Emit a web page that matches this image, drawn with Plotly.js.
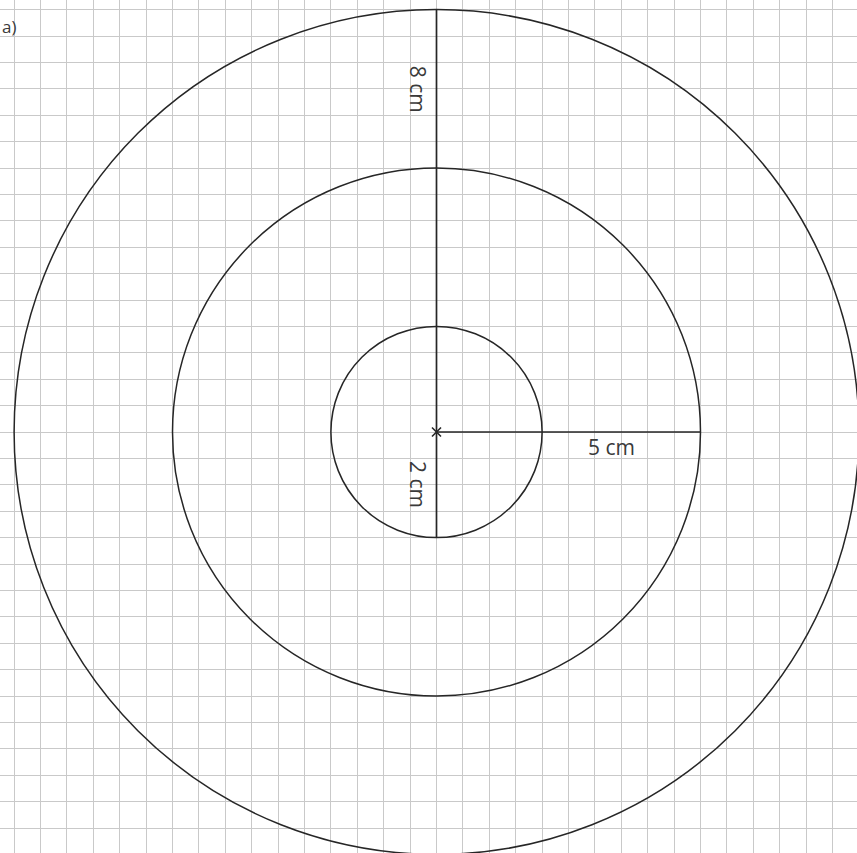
<!DOCTYPE html>
<html>
<head>
<meta charset="utf-8">
<script src="https://cdn.plot.ly/plotly-3.0.1.min.js"></script>
<style>html,body{margin:0;padding:0;background:#fff;}#chart{width:857px;height:853px;}</style>
</head>
<body>
<div id="chart"></div>
<script>
// Data (cm)
const radii = [2, 5, 8];
const upLength = 8;      // radius drawn upward
const downLength = 2;    // radius drawn downward
const rightLength = 5;   // radius drawn to the right
const labels = ["8 cm", "2 cm", "5 cm"];
const partLabel = "a)";

const pxPerCm = 52.8;
const W = 857, H = 853;
const cx = 436.5, cy = 432;
const xr = [-cx / pxPerCm, (W - cx) / pxPerCm];
const yr = [-(H - cy) / pxPerCm, cy / pxPerCm];

const ink = "#262626";
const shapes = radii.map(r => ({
  type: "circle", xref: "x", yref: "y",
  x0: -r, x1: r, y0: -r, y1: r,
  line: {color: ink, width: 1.5}
}));

const traces = [
  {x: [0, 0], y: [upLength, -downLength], mode: "lines", line: {color: ink, width: 1.7}, hoverinfo: "skip"},
  {x: [0, rightLength], y: [0, 0], mode: "lines", line: {color: ink, width: 1.7}, hoverinfo: "skip"},
  {x: [0], y: [0], mode: "markers", marker: {symbol: "x-thin", size: 9, line: {color: ink, width: 1.6}}, hoverinfo: "skip"}
];

const font = {family: "Open Sans, Noto Sans, sans-serif", size: 21, color: "#3a3a3a"};
const annotations = [
  {x: -0.35, y: 6.50, text: labels[0], textangle: 90, showarrow: false, font},
  {x: -0.35, y: -0.985, text: labels[1], textangle: 90, showarrow: false, font},
  {x: 3.32, y: -0.28, text: labels[2], showarrow: false, font},
  {x: (0 - cx) / pxPerCm, y: (cy - 26) / pxPerCm, text: partLabel, xanchor: "left", showarrow: false,
   font: {family: "Open Sans, sans-serif", size: 17, color: "#3a3a3a"}}
];

const axisCommon = {
  dtick: 0.5, tick0: 0, showgrid: true, gridcolor: "#c9c9c9", gridwidth: 1,
  zeroline: false, showticklabels: false, ticks: "", showline: false, fixedrange: true
};

Plotly.newPlot("chart", traces, {
  width: W, height: H,
  margin: {l: 0, r: 0, t: 0, b: 0},
  paper_bgcolor: "#ffffff", plot_bgcolor: "#ffffff",
  showlegend: false,
  xaxis: Object.assign({range: xr}, axisCommon),
  yaxis: Object.assign({range: yr}, axisCommon),
  shapes, annotations
}, {staticPlot: true});
</script>
</body>
</html>
